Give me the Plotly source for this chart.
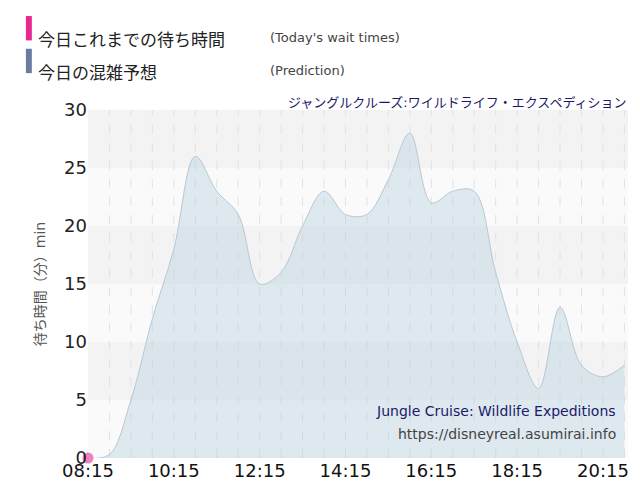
import plotly.graph_objects as go
import pandas as pd

pred_times = ["08:15", "08:45", "09:15", "09:45", "10:15", "10:45", "11:15", "11:45",
              "12:15", "12:45", "13:15", "13:45", "14:15", "14:45", "15:15", "15:45",
              "16:15", "16:45", "17:15", "17:45", "18:15", "18:45", "19:15", "19:45",
              "20:15", "20:45"]
pred_values = [0, 0.3, 5, 12, 18, 26, 23, 21, 15, 16, 20, 23, 21, 21, 24, 28,
               22, 23, 23, 16, 10, 6, 13, 8, 7, 8]
actual_times = ["08:15"]
actual_values = [0]
tick_labels = ["08:15", "10:15", "12:15", "14:15", "16:15", "18:15", "20:15"]

day = "2024-01-01 "
px_ = pd.to_datetime([day + t for t in pred_times])
ax_ = pd.to_datetime([day + t for t in actual_times])
ticks = pd.to_datetime([day + t for t in tick_labels])
grid30 = pd.date_range(day + "08:45", day + "20:45", freq="30min")

fig = go.Figure()
fig.add_trace(go.Scatter(x=px_, y=pred_values, mode="lines", line=dict(shape="spline", color="#b8c8d4", width=1),
                         fill="tozeroy", fillcolor="rgba(180,205,222,0.4)", showlegend=False))
fig.add_trace(go.Scatter(x=ax_, y=actual_values, mode="markers", marker=dict(color="#f080c0", size=11),
                         cliponaxis=False, showlegend=False))

shapes = []
for i in range(6):
    shapes.append(dict(type="rect", xref="paper", yref="y", x0=0, x1=1, y0=i * 5, y1=i * 5 + 5,
                       fillcolor="#fafafa" if i % 2 == 0 else "#f3f3f3", line_width=0, layer="below"))
for g in grid30:
    shapes.append(dict(type="line", xref="x", yref="paper", x0=g, x1=g, y0=0, y1=1,
                       line=dict(color="#e2e2e2", width=1, dash="dash"), layer="below"))
shapes += [
    dict(type="rect", xref="paper", yref="paper", x0=-0.115, x1=-0.104, y0=1.2, y1=1.27, fillcolor="#e8288c", line_width=0),
    dict(type="rect", xref="paper", yref="paper", x0=-0.115, x1=-0.104, y0=1.106, y1=1.176, fillcolor="#6a7aa0", line_width=0),
]

ann = [
    dict(text="今日これまでの待ち時間", x=-0.096, y=1.235, xref="paper", yref="paper", xanchor="left", showarrow=False, font=dict(size=17, color="#222")),
    dict(text="(Today's wait times)", x=0.333, y=1.235, xref="paper", yref="paper", xanchor="left", showarrow=False, font=dict(size=13, color="#444")),
    dict(text="今日の混雑予想", x=-0.096, y=1.141, xref="paper", yref="paper", xanchor="left", showarrow=False, font=dict(size=17, color="#222")),
    dict(text="(Prediction)", x=0.333, y=1.141, xref="paper", yref="paper", xanchor="left", showarrow=False, font=dict(size=13, color="#444")),
    dict(text="ジャングルクルーズ:ワイルドライフ・エクスペディション", x=1, y=1.05, xref="paper", yref="paper", xanchor="right", showarrow=False, font=dict(size=13, color="#1a1a6a")),
    dict(text="Jungle Cruise: Wildlife Expeditions", x=0.981, y=0.106, xref="paper", yref="paper", xanchor="right", showarrow=False, font=dict(size=14, color="#1a1a6a")),
    dict(text="https://disneyreal.asumirai.info", x=0.981, y=0.041, xref="paper", yref="paper", xanchor="right", showarrow=False, font=dict(size=14, color="#444")),
]

fig.update_layout(
    width=640, height=500, margin=dict(l=80, r=20, t=102, b=50),
    paper_bgcolor="white", plot_bgcolor="white",
    font=dict(family="DejaVu Sans, Noto Sans CJK JP"),
    shapes=shapes, annotations=ann,
    xaxis=dict(range=[px_[0], pd.Timestamp(day + "20:50")], tickvals=ticks, ticktext=tick_labels,
               showgrid=False, tickfont=dict(size=18, color="#111"), zeroline=False),
    yaxis=dict(range=[0, 30], dtick=5, showgrid=False, zeroline=False, tickfont=dict(size=18, color="#222"),
               title=dict(text="待ち時間（分）min", font=dict(size=14, color="#555")), ticks="", ticklen=0),
)
fig.write_html("out.html")
